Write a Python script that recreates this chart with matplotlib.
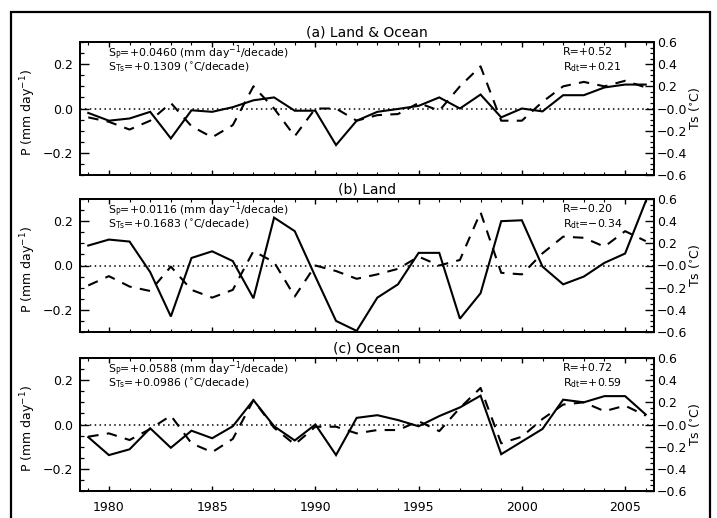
import matplotlib
matplotlib.use("Agg")
import matplotlib.pyplot as plt
from matplotlib.ticker import MultipleLocator, FixedLocator, FixedFormatter
from matplotlib.patches import Rectangle

plt.rcParams['font.family'] = ['DejaVu Sans']
plt.rcParams['mathtext.fontset'] = 'dejavusans'

years = list(range(1979, 2007))

# (a) Land & Ocean
p_land_ocean = [-0.02, -0.055, -0.045, -0.015, -0.135, -0.008, -0.015, 0.006, 0.037, 0.05,
                -0.01, -0.01, -0.165, -0.055, -0.015, -0.002, 0.012, 0.05, 0.0, 0.063,
                -0.04, 0.0, -0.013, 0.06, 0.06, 0.095, 0.108, 0.108]
ts_land_ocean = [-0.08, -0.12, -0.19, -0.11, 0.05, -0.16, -0.26, -0.15, 0.2, 0.0,
                 -0.25, 0.0, 0.0, -0.11, -0.06, -0.05, 0.05, -0.02, 0.2, 0.38,
                 -0.11, -0.11, 0.06, 0.2, 0.24, 0.2, 0.25, 0.19]

# (b) Land
p_land = [0.09, 0.117, 0.108, -0.03, -0.23, 0.034, 0.064, 0.02, -0.148, 0.216,
          0.155, -0.05, -0.25, -0.295, -0.145, -0.085, 0.057, 0.057, -0.24, -0.125,
          0.2, 0.204, -0.005, -0.085, -0.05, 0.012, 0.054, 0.29]
ts_land = [-0.18, -0.096, -0.19, -0.23, -0.01, -0.22, -0.29, -0.22, 0.13, 0.03,
           -0.28, 0.0, -0.05, -0.12, -0.08, -0.03, 0.08, 0.0, 0.05, 0.48,
           -0.066, -0.08, 0.11, 0.26, 0.25, 0.17, 0.31, 0.22]

# (c) Ocean
p_ocean = [-0.057, -0.138, -0.112, -0.017, -0.105, -0.028, -0.062, -0.008, 0.11, -0.008,
           -0.072, 0.0, -0.138, 0.03, 0.042, 0.02, -0.008, 0.038, 0.077, 0.13,
           -0.134, -0.077, -0.02, 0.112, 0.1, 0.128, 0.128, 0.045]
ts_ocean = [-0.11, -0.08, -0.14, -0.04, 0.08, -0.17, -0.25, -0.13, 0.22, -0.03,
            -0.18, -0.02, -0.02, -0.08, -0.05, -0.05, 0.03, -0.06, 0.15, 0.33,
            -0.17, -0.11, 0.05, 0.18, 0.2, 0.12, 0.17, 0.08]

titles = ['(a) Land & Ocean', '(b) Land', '(c) Ocean']
sp_vals = ['+0.0460', '+0.0116', '+0.0588']
sts_vals = ['+0.1309', '+0.1683', '+0.0986']
r_vals = ['+0.52', '\u22120.20', '+0.72']
rdt_vals = ['+0.21', '\u22120.34', '+0.59']

p_ticks = [-0.2, 0.0, 0.2]
p_ticklabels = ['\u22120.2', '0.0', '0.2']
ts_ticks = [-0.6, -0.4, -0.2, 0.0, 0.2, 0.4, 0.6]
ts_ticklabels = ['\u22120.6', '\u22120.4', '\u22120.2', '\u22120.0', '0.2', '0.4', '0.6']
x_ticks = [1980, 1985, 1990, 1995, 2000, 2005]

P_series = [p_land_ocean, p_land, p_ocean]
T_series = [ts_land_ocean, ts_land, ts_ocean]

W, H = 717, 518
fig = plt.figure(figsize=(W / 100, H / 100), dpi=100)

def px_rect(l, t, r, b):
    return [l / W, 1 - b / H, (r - l) / W, (b - t) / H]

tops = [42, 199, 358]
ph = 133
L, R = 80, 654

for i in range(3):
    ax = fig.add_axes(px_rect(L, tops[i], R, tops[i] + ph))
    ax.plot(years, P_series[i], color='k', lw=1.5, solid_joinstyle='miter')
    ax.axhline(0, color='k', lw=1.1, ls=(0, (1, 2.2)))
    ax.set_xlim(1978.6, 2006.4)
    ax.set_ylim(-0.3, 0.3)
    ax.yaxis.set_major_locator(FixedLocator(p_ticks))
    ax.yaxis.set_major_formatter(FixedFormatter(p_ticklabels))
    ax.yaxis.set_minor_locator(MultipleLocator(0.05))
    ax.xaxis.set_major_locator(FixedLocator(x_ticks))
    ax.xaxis.set_minor_locator(MultipleLocator(1))
    ax.tick_params(axis='y', which='major', direction='in', length=6.5, width=1.0,
                   labelsize=9, pad=5, right=False)
    ax.tick_params(axis='y', which='minor', direction='in', length=3, width=0.9, right=False)
    ax.tick_params(axis='x', which='major', direction='in', length=3.5, width=1.0,
                   top=True, bottom=True, labelsize=9, pad=7)
    ax.tick_params(axis='x', which='minor', direction='in', length=2, width=0.8,
                   top=True, bottom=True)
    if i < 2:
        ax.tick_params(axis='x', labelbottom=False)
    for s in ax.spines.values():
        s.set_linewidth(1.3)
    ax.set_title(titles[i], fontsize=10, pad=4)

    ax2 = ax.twinx()
    ax2.plot(years, T_series[i], color='k', lw=1.5, ls=(0, (5, 4)))
    ax2.set_ylim(-0.6, 0.6)
    ax2.yaxis.set_major_locator(FixedLocator(ts_ticks))
    ax2.yaxis.set_major_formatter(FixedFormatter(ts_ticklabels))
    ax2.yaxis.set_minor_locator(MultipleLocator(0.05))
    ax2.tick_params(axis='y', which='major', direction='in', length=6.5, width=1.0,
                    labelsize=9, pad=2)
    ax2.tick_params(axis='y', which='minor', direction='in', length=3, width=0.9)
    for s in ax2.spines.values():
        s.set_linewidth(1.3)

    ax.text(0.049, 0.922, 'S$_\\mathrm{P}$=' + sp_vals[i] + ' (mm day$^{-1}$/decade)',
            transform=ax.transAxes, fontsize=7.8, ha='left', va='center')
    ax.text(0.049, 0.81, 'S$_\\mathrm{Ts}$=' + sts_vals[i] + ' ($^{\\circ}$C/decade)',
            transform=ax.transAxes, fontsize=7.8, ha='left', va='center')
    ax.text(0.841, 0.922, 'R=' + r_vals[i],
            transform=ax.transAxes, fontsize=7.8, ha='left', va='center')
    ax.text(0.841, 0.81, 'R$_\\mathrm{dt}$=' + rdt_vals[i],
            transform=ax.transAxes, fontsize=7.8, ha='left', va='center')

    cy = tops[i] + ph / 2 + 4
    fig.text(28 / W, 1 - cy / H, 'P (mm day$^{-1}$)', rotation=90, fontsize=9,
             ha='center', va='center')
    fig.text(694 / W, 1 - (tops[i] + ph / 2) / H, 'Ts ($^{\\circ}$C)', rotation=90, fontsize=9,
             ha='center', va='center')

fig.add_artist(Rectangle((11 / W, -0.1), (710 - 11) / W, 1 - 12 / H + 0.1,
                         transform=fig.transFigure, fill=False, lw=1.6, ec='k'))

fig.savefig('out.png', dpi=100)
